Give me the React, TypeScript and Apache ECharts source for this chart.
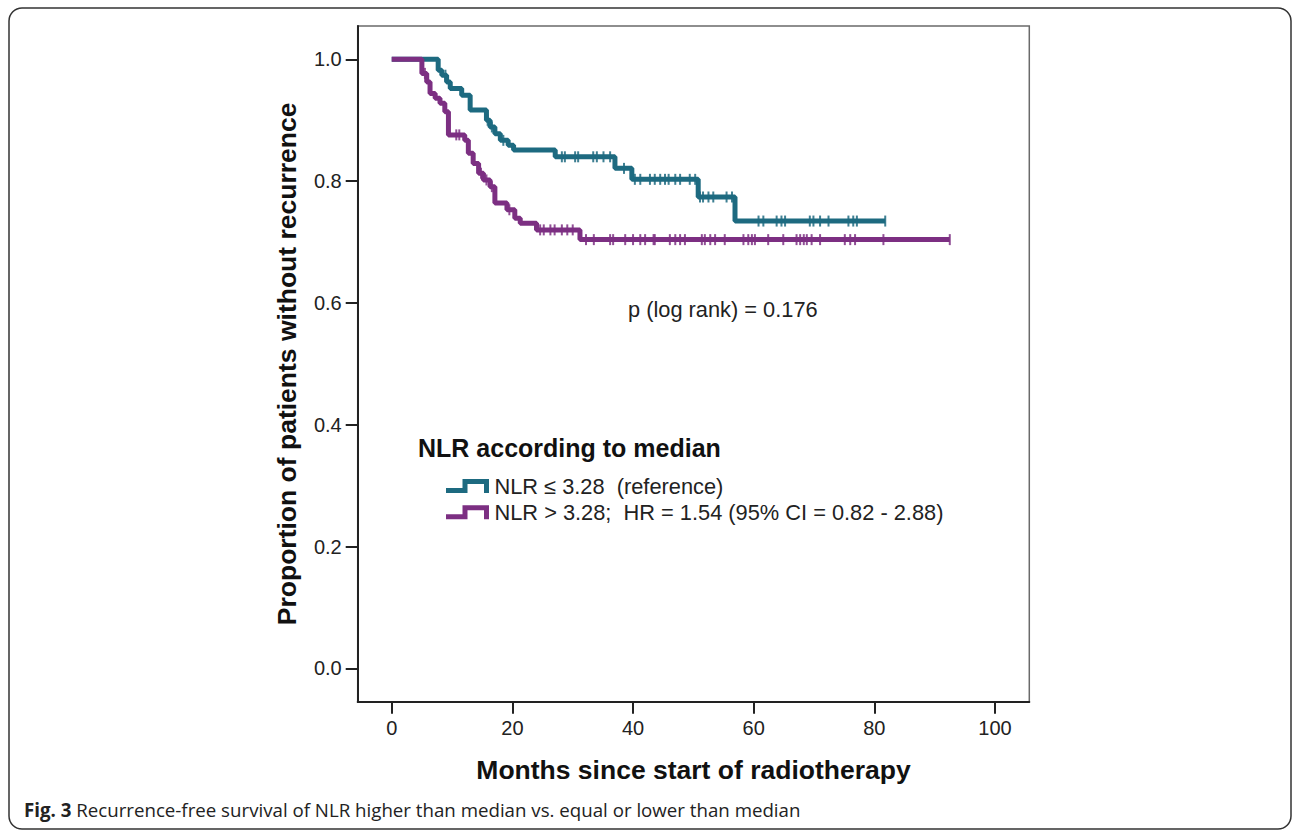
import React, { useEffect, useRef } from "react";
import * as echarts from "echarts";

// ---- data ----
const seriesNames = [
  "NLR ≤ 3.28  (reference)",
  "NLR > 3.28;  HR = 1.54 (95% CI = 0.82 - 2.88)",
];

const tealTimes = [0, 7.7, 8.3, 9.1, 9.7, 11.6, 13.0, 15.7, 16.3, 17.1, 18.0, 19.3, 20.2, 27.1, 37.0, 39.8, 50.8, 56.9, 81.8];
const tealSurv = [1.0, 0.982, 0.974, 0.963, 0.952, 0.941, 0.917, 0.9, 0.889, 0.878, 0.867, 0.859, 0.851, 0.84, 0.821, 0.803, 0.774, 0.7345, 0.7345];
const tealCensored = [8.9, 15.9, 16.6, 18.5, 28.2, 28.7, 30.4, 30.9, 33.4, 34.0, 35.1, 36.2, 38.5, 40.3, 41.2, 42.8, 43.6, 44.5, 45.3, 45.9, 47.0, 47.8, 49.4, 50.3, 51.1, 51.6, 52.5, 53.3, 55.5, 56.4, 60.8, 61.6, 63.8, 64.6, 65.2, 69.3, 69.9, 71.0, 72.4, 75.7, 76.5, 77.1, 81.8];

const purpleTimes = [0, 5.0, 5.8, 6.35, 7.2, 8.0, 8.8, 9.4, 12.1, 12.7, 13.5, 14.4, 15.2, 16.3, 17.1, 19.1, 20.4, 21.3, 24.0, 31.2, 92.5];
const purpleSurv = [1.0, 0.977, 0.963, 0.944, 0.936, 0.928, 0.914, 0.876, 0.867, 0.846, 0.829, 0.813, 0.802, 0.791, 0.764, 0.753, 0.739, 0.731, 0.72, 0.704, 0.704];
const purpleCensored = [5.5, 10.7, 11.2, 14.8, 15.7, 16.6, 19.5, 24.6, 25.2, 26.3, 27.0, 28.2, 29.1, 30.0, 32.2, 33.5, 36.2, 36.7, 38.7, 40.0, 41.2, 42.0, 43.4, 43.6, 46.1, 47.0, 47.8, 48.6, 51.4, 51.9, 52.8, 53.6, 55.2, 58.3, 59.1, 59.7, 60.2, 62.4, 64.9, 67.1, 67.7, 68.3, 68.8, 69.6, 71.0, 75.1, 76.0, 76.8, 81.5, 92.5];

const xTicks = [0, 20, 40, 60, 80, 100];
const yTicks = [0, 0.2, 0.4, 0.6, 0.8, 1.0];

const xTitle = "Months since start of radiotherapy";
const yTitle = "Proportion of patients without recurrence";
const legendTitle = "NLR according to median";
const pText = "p (log rank) = 0.176";
const captionBold = "Fig. 3";
const captionText = " Recurrence-free survival of NLR higher than median vs. equal or lower than median";

const TEAL = "#1d6a80";
const PURPLE = "#7c2f82";
const FONT = "'Liberation Sans', Arial, sans-serif";

function survAt(times: number[], surv: number[], t: number) {
  let s = surv[0];
  for (let i = 0; i < times.length; i++) {
    if (times[i] <= t + 1e-9) s = surv[i];
  }
  return s;
}

const legendIcon = "path://M0,9 L16.5,9 L16.5,0 L43,0 L43,14 L38,14 L38,5 L21.5,5 L21.5,14 L0,14 Z";

export default function App() {
  const ref = useRef<HTMLDivElement>(null);
  useEffect(() => {
    if (!ref.current) return;
    const chart = echarts.init(ref.current, undefined, { renderer: "svg" });
    const tealLine = tealTimes.map((t, i) => [t, tealSurv[i]]);
    const purpleLine = purpleTimes.map((t, i) => [t, purpleSurv[i]]);
    const tealCens = tealCensored.map((t) => [t, survAt(tealTimes, tealSurv, t)]);
    const purpleCens = purpleCensored.map((t) => [t, survAt(purpleTimes, purpleSurv, t)]);

    chart.setOption({
      animation: false,
      backgroundColor: "#fff",
      grid: {
        left: 357.7,
        right: 262.7,
        top: 26,
        bottom: 129.3,
        show: true,
        borderColor: "#6a6a6a",
        borderWidth: 1.5,
      },
      xAxis: {
        type: "value",
        min: -5.64,
        max: 105.68,
        axisLine: { show: true, onZero: false, lineStyle: { color: "#222", width: 2 } },
        axisTick: { show: true, customValues: xTicks, length: 12, lineStyle: { color: "#222", width: 2 } },
        axisLabel: { customValues: xTicks, margin: 16, fontSize: 20, color: "#222", fontFamily: FONT },
        splitLine: { show: false },
        name: xTitle,
        nameLocation: "middle",
        nameGap: 55,
        nameTextStyle: { fontSize: 26.5, fontWeight: "bold", color: "#111", fontFamily: FONT },
      },
      yAxis: {
        type: "value",
        min: -0.0548,
        max: 1.0548,
        axisLine: { show: true, onZero: false, lineStyle: { color: "#222", width: 2 } },
        axisTick: { show: true, customValues: yTicks, length: 12, lineStyle: { color: "#222", width: 2 } },
        axisLabel: {
          customValues: yTicks,
          margin: 16,
          fontSize: 20,
          color: "#222",
          fontFamily: FONT,
          formatter: (v: number) => v.toFixed(1),
        },
        splitLine: { show: false },
        name: yTitle,
        nameLocation: "middle",
        nameGap: 57.5,
        nameRotate: 90,
        nameTextStyle: { fontSize: 26.5, fontWeight: "bold", color: "#111", fontFamily: FONT },
      },
      legend: {
        data: seriesNames,
        orient: "vertical",
        left: 441,
        top: 470,
        itemWidth: 44,
        itemHeight: 14,
        itemGap: 4.3,
        icon: legendIcon,
        itemStyle: { borderWidth: 0 },
        textStyle: { fontSize: 21.8, color: "#222", fontFamily: FONT },
        selectedMode: false,
      },
      graphic: [
        {
          type: "rect",
          shape: { x: 9, y: 8, width: 1282, height: 821, r: 13 },
          style: { fill: "none", stroke: "#333", lineWidth: 1.5 },
          silent: true,
        },
        {
          type: "text",
          left: 418,
          top: 435,
          style: { text: legendTitle, fontSize: 25, fontWeight: "bold", fill: "#111", fontFamily: FONT },
        },
        {
          type: "text",
          left: 628,
          top: 298,
          style: { text: pText, fontSize: 21.8, fill: "#222", fontFamily: FONT },
        },
        {
          type: "text",
          left: 24,
          top: 800,
          style: {
            text: "{b|" + captionBold + "}{r|" + captionText + "}",
            rich: {
              b: { fontSize: 18.7, fontWeight: "bold", fill: "#222", fontFamily: "'Open Sans', sans-serif" },
              r: { fontSize: 18.7, fill: "#222", fontFamily: "'Open Sans', sans-serif" },
            },
          },
        },
      ],
      series: [
        {
          name: seriesNames[0],
          type: "line",
          step: "end",
          data: tealLine,
          showSymbol: false,
          color: TEAL,
          lineStyle: { color: TEAL, width: 5 },
          z: 2,
        },
        {
          name: seriesNames[1],
          type: "line",
          step: "end",
          data: purpleLine,
          showSymbol: false,
          color: PURPLE,
          lineStyle: { color: PURPLE, width: 5 },
          z: 3,
        },
        {
          name: "teal-censored",
          type: "scatter",
          data: tealCens,
          symbol: "rect",
          symbolSize: [2, 11],
          itemStyle: { color: TEAL, opacity: 0.85 },
          z: 4,
        },
        {
          name: "purple-censored",
          type: "scatter",
          data: purpleCens,
          symbol: "rect",
          symbolSize: [2, 11],
          itemStyle: { color: PURPLE, opacity: 0.85 },
          z: 4,
        },
      ],
    });
    return () => chart.dispose();
  }, []);
  return (
    <div
      ref={ref}
      style={{ position: "fixed", left: 0, top: 0, width: 1292, height: 831, background: "#fff" }}
    />
  );
}
